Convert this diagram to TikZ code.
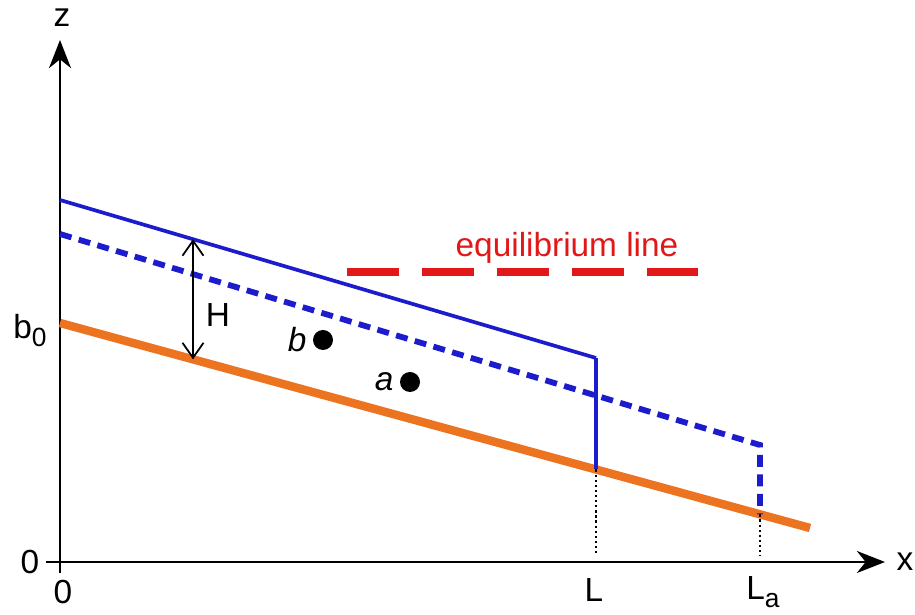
\documentclass[tikz,border=0pt]{standalone}
\usepackage{fontspec}
\setmainfont{Liberation Sans}
\usetikzlibrary{arrows.meta}

\definecolor{iceblue}{RGB}{28,28,205}
\definecolor{bedorange}{RGB}{236,116,32}
\definecolor{elared}{RGB}{226,24,24}

\newcommand{\lowsub}[1]{\raisebox{-0.45ex}{\fontsize{15}{17}\selectfont #1}}

\begin{document}
\begin{tikzpicture}[font=\fontsize{19}{22}\selectfont,
	axis/.style={line width=1.3pt,-{Stealth[length=16pt,width=12.5pt,inset=5pt]}},
	bed/.style={line width=4.8pt,bedorange},
	surface/.style={line width=2.1pt,iceblue},
	advanced/.style={line width=3.3pt,iceblue,dash pattern=on 0.24cm off 0.15cm},
	ela/.style={line width=4pt,elared,dash pattern=on 1.04cm off 0.46cm},
	guide/.style={line width=0.9pt,dash pattern=on 1.3pt off 1.6pt},
	marker/.style={circle,fill=black,inner sep=0pt,minimum size=0.4cm}]
	
	\useasboundingbox (-1.2,-1.06) rectangle (17.1,11.24);
	
	% axes
	\coordinate (O) at (0,0);
	\coordinate (xend) at (16.5,0);
	\coordinate (zend) at (0,10.44);
	\draw[axis] (-0.28,0) -- (xend);
	\draw[axis] (0,-0.22) -- (zend);
	\node (xlab) at (16.9,0) {x};
	\node (zlab) at (0.04,10.88) {z};
	\node (zerox) at (0.06,-0.6) {0};
	\node (zeroz) at (-0.6,0) {0};
	\node (b0lab) at (-0.6,4.62) {b\lowsub{0}};
	
	% bed
	\coordinate (bedA) at (0,4.78);
	\coordinate (bedB) at (15,0.68);
	\coordinate (bedL) at (10.72,1.85);
	\coordinate (bedLa) at (14,0.953);
	\draw[bed] (bedA) -- (bedB);
	
	% glacier surfaces
	\coordinate (surfA) at (0,7.24);
	\coordinate (surfL) at (10.72,4.08);
	\coordinate (advA) at (0,6.56);
	\coordinate (advLa) at (14,2.34);
	\draw[advanced] (advA) -- (advLa) -- (bedLa);
	\draw[surface] (surfA) -- (surfL);
	\draw[iceblue,line width=2.6pt] (surfL) -- (bedL);
	
	% termini
	\coordinate (tickL) at (10.72,0.12);
	\coordinate (tickLa) at (14,0.12);
	\draw[guide] (bedL) -- (tickL);
	\draw[guide] (bedLa) -- (tickLa);
	\node (Llab) at (10.68,-0.56) {L};
	\node (Lalab) at (14.06,-0.6) {L\lowsub{a}};
	
	% thickness
	\coordinate (Htop) at (2.66,6.456);
	\coordinate (Hbot) at (2.66,4.053);
	\draw[line width=1pt,{Straight Barb[length=0.3cm,width=0.42cm]}-{Straight Barb[length=0.3cm,width=0.42cm]}] (Htop) -- (Hbot);
	\node (Hlab) at (3.16,4.94) {H};
	
	% equilibrium line
	\coordinate (elaA) at (5.74,5.8);
	\coordinate (elaB) at (12.76,5.8);
	\draw[ela] (elaA) -- (elaB);
	\node[elared] (elalab) at (10.14,6.28) {equilibrium line};
	
	% points
	\node[marker] (b) at (5.26,4.44) {};
	\node[left=0pt] (blab) at (b.west) {\textit{b}};
	\node[marker] (a) at (7.0,3.6) {};
	\node[left=0pt] (alab) at (a.west) {\textit{a}};
	
\end{tikzpicture}
\end{document}
